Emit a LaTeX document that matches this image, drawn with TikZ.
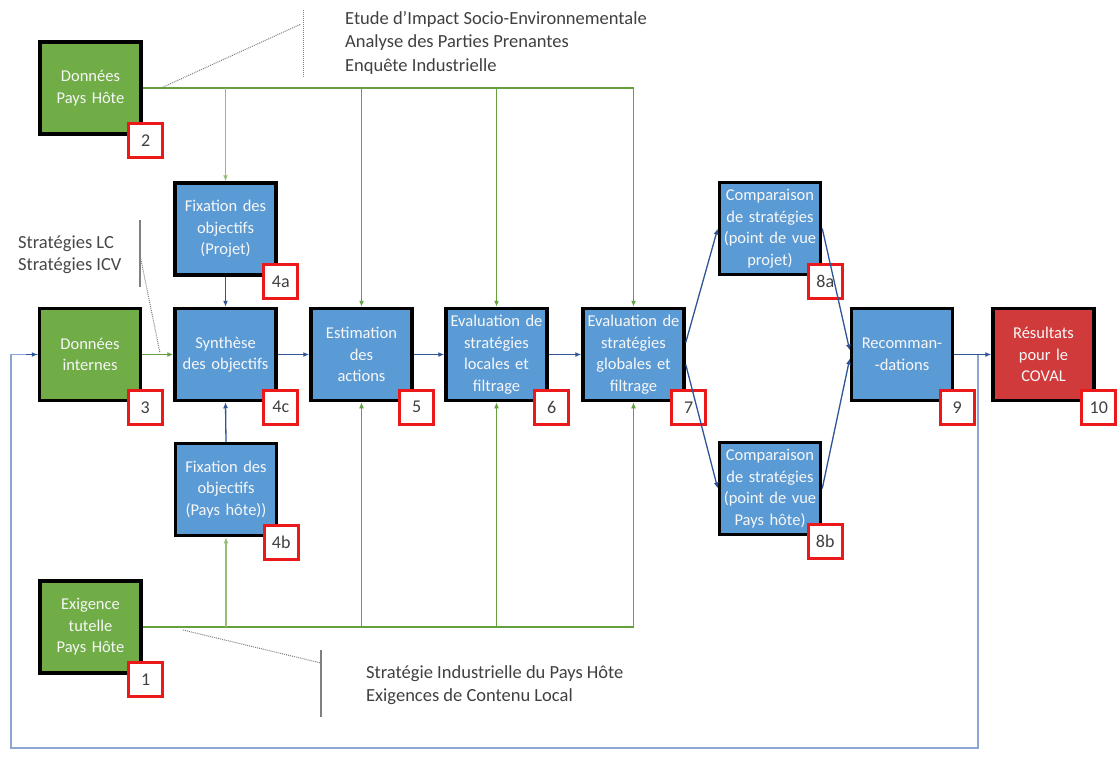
\documentclass[tikz,border=0pt]{standalone}
\usepackage{fontspec}
\setmainfont{Carlito}
\usetikzlibrary{arrows.meta,calc}
\definecolor{gfill}{RGB}{112,173,71}
\definecolor{bfill}{RGB}{91,155,213}
\definecolor{rfill}{RGB}{209,58,58}
\definecolor{gline}{RGB}{100,160,60}
\definecolor{glight}{RGB}{150,190,120}
\definecolor{bline}{RGB}{47,85,151}
\definecolor{fbline}{RGB}{140,165,210}
\definecolor{labred}{RGB}{235,25,25}
\definecolor{txtgrey}{RGB}{64,64,64}
\begin{document}
\begin{tikzpicture}[x=1pt,y=-1pt,
  box/.style={draw=black, line width=3.5pt, minimum width=101pt, minimum height=92pt,
    text width=99pt, align=center, text=white!94!gray, inner sep=0pt,
    font=\fontsize{16.5}{21.5}\selectfont},
  gbox/.style={box, fill=gfill},
  bbox/.style={box, fill=bfill},
  rbox/.style={box, fill=rfill},
  lab/.style={draw=labred, line width=3pt, fill=white, minimum size=34pt, inner sep=0pt,
    text=txtgrey, font=\fontsize{18}{20}\selectfont},
  tip/.style={-{Latex[length=6pt,width=5pt]}},
  gl/.style={draw=gline, line width=1.3pt},
  glt/.style={draw=glight, line width=1.3pt},
  bl/.style={draw=bline, line width=1.3pt},
  fbl/.style={draw=fbline, line width=1.6pt},
  dotl/.style={draw=gray, line width=1pt, dash pattern=on 1pt off 1pt},
  barl/.style={draw=gray, line width=1.5pt},
  ctext/.style={align=left, text=txtgrey, inner sep=0pt, font=\fontsize{18.5}{23.5}\selectfont}
]
\useasboundingbox (0,0) rectangle (1117,761);
\fill[white] (0,0) rectangle (1117,761);

% boxes
\node[gbox] (b2) at (90.5,88) {Données\\Pays Hôte};
\node[gbox] (b3) at (90,354.5) {Données\\internes};
\node[gbox] (b1) at (90.5,627) {Exigence\\tutelle\\Pays Hôte};
\node[bbox] (b4a) at (225.5,229) {Fixation des\\objectifs\\(Projet)};
\node[bbox] (b4c) at (225.5,354.5) {Synthèse\\des objectifs};
\node[bbox] (b4b) at (226,489.5) {Fixation des\\objectifs\\(Pays hôte))};
\node[bbox] (b5) at (361.5,354.5) {Estimation\\des\\actions};
\node[bbox] (b6) at (496.5,354.5) {Evaluation de\\stratégies\\locales et\\filtrage};
\node[bbox] (b7) at (633.5,354.5) {Evaluation de\\stratégies\\globales et\\filtrage};
\node[bbox] (b8a) at (770,228.5) {Comparaison\\de stratégies\\(point de vue\\projet)};
\node[bbox] (b8b) at (770,488.5) {Comparaison\\de stratégies\\(point de vue\\Pays hôte)};
\node[bbox] (b9) at (902,354.5) {Recomman-\\-dations};
\node[rbox] (b10) at (1043.5,354.5) {Résultats\\pour le\\COVAL};

% number labels
\foreach \b/\t in {b2/2,b3/3,b1/1,b4a/4a,b4c/4c,b4b/4b,b5/5,b6/6,b7/7,b8a/8a,b8b/8b,b9/9,b10/10}
  \node[lab] (l\b) at ($(\b.south east)+(3,5)$) {\t};

% top green distribution
\draw[gl,tip] (b2.east) -| (b7.north);
\draw[glt,tip] (b4a.north |- b2.east) -- (b4a.north);
\draw[gl,tip] (b5.north |- b2.east) -- (b5.north);
\draw[gl,tip] (b6.north |- b2.east) -- (b6.north);

% bottom green distribution
\draw[gl,tip] (b1.east) -| (b7.south);
\draw[glt,tip] (b4b.south |- b1.east) -- (b4b.south);
\draw[gl,tip] (b5.south |- b1.east) -- (b5.south);
\draw[gl,tip] (b6.south |- b1.east) -- (b6.south);

% internal flow
\draw[gl,tip] (b3.east) -- (b4c.west);
\draw[bl,tip] (b4a.south) -- (b4c.north);
\draw[bl,tip] (b4b.north) -- (b4c.south);
\draw[bl,tip] (b4c.east) -- (b5.west);
\draw[bl,tip] (b5.east) -- (b6.west);
\draw[bl,tip] (b6.east) -- (b7.west);
\draw[bl,tip] ($(b7.east)+(0,-12)$) -- (b8a.west);
\draw[bl,tip] ($(b7.east)+(0,10)$) -- (b8b.west);
\draw[bl,tip] (b8a.east) -- ($(b9.west)+(0,-4)$);
\draw[bl,tip] (b8b.east) -- ($(b9.west)+(0,4)$);
\draw[bl,tip] (b9.east) -- (b10.west);

% feedback loop
\coordinate (fbA) at (978,354.5);
\coordinate (fbB) at (978,748);
\coordinate (fbC) at (11,748);
\draw[fbl] (fbA) -- (fbB) -- (fbC) |- (b3.west);
\draw[bl,tip] ($(b3.west)+(-12,0)$) -- (b3.west);

% top callout
\coordinate (tb1) at (303,10);
\coordinate (tb2) at (303,77);
\coordinate (td1) at (161,88);
\coordinate (td2) at (301,24);
\draw[dotl] (tb1) -- (tb2);
\draw[dotl] (td1) -- (td2);
\node[ctext, anchor=north west] (tt) at (345,11)
  {Etude d’Impact Socio-Environnementale\\Analyse des Parties Prenantes\\Enquête Industrielle};

% left callout
\coordinate (lb1) at (140,220);
\coordinate (lb2) at (140,287);
\coordinate (ld1) at (140,255);
\coordinate (ld2) at (160,353);
\draw[barl] (lb1) -- (lb2);
\draw[dotl] (ld1) -- (ld2);
\node[ctext, anchor=north west, text=black!72, font=\fontsize{18.5}{22}\selectfont] (lt) at (18,236)
  {Stratégies LC\\Stratégies ICV};

% bottom callout
\coordinate (bb1) at (321,650);
\coordinate (bb2) at (321,717);
\coordinate (bd1) at (183,630);
\coordinate (bd2) at (321,663);
\draw[barl] (bb1) -- (bb2);
\draw[dotl] (bd1) -- (bd2);
\node[ctext, anchor=north west] (bt) at (366,665)
  {Stratégie Industrielle du Pays Hôte\\Exigences de Contenu Local};
\end{tikzpicture}
\end{document}
